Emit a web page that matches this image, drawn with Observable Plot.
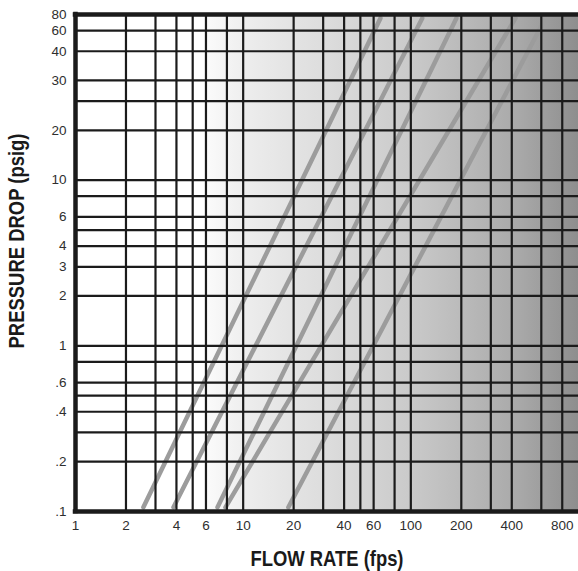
<!DOCTYPE html>
<html>
<head>
<meta charset="utf-8">
<script src="https://cdn.jsdelivr.net/npm/d3@7"></script>
<script src="https://cdn.jsdelivr.net/npm/@observablehq/plot@0.6"></script>
<style>
  html, body { margin: 0; padding: 0; background: #fff; }
  svg { display: block; }
</style>
</head>
<body>
<div id="chart"></div>
<script>
// ---- data ----
const xTicks = [1, 2, 4, 6, 10, 20, 40, 60, 100, 200, 400, 800];
const xTickLabels = ["1", "2", "4", "6", "10", "20", "40", "60", "100", "200", "400", "800"];
const xGrid = [2, 3, 4, 5, 6, 8, 10, 20, 30, 40, 50, 60, 80, 100, 200, 300, 400, 600, 800];

const yTicks = [0.1, 0.2, 0.4, 0.6, 1, 2, 3, 4, 6, 10, 20, 40, 60, 80, 100];
const yTickLabels = [".1", ".2", ".4", ".6", "1", "2", "3", "4", "6", "10", "20", "30", "40", "60", "80"];
const yGrid = [0.2, 0.3, 0.4, 0.5, 0.6, 0.8, 1, 2, 3, 4, 5, 6, 8, 10, 20, 30, 40, 60, 80];

const curveNames = ["A", "B", "C", "D", "E"];
const flowStart = [2.54, 3.84, 7.03, 7.84, 18.6];
const flowEnd = [65.9, 117, 187, 421, 635];
const dropStart = [0.106, 0.106, 0.106, 0.106, 0.106];
const dropEnd = [95, 95, 95, 95, 95];

const xDomain = [1, 1000];
const yDomain = [0.1, 100];
const shadeStartFlow = 6;

const xTitle = "FLOW RATE (fps)";
const yTitle = "PRESSURE DROP (psig)";

// ---- build ----
const rows = [];
curveNames.forEach((c, i) => {
  rows.push({curve: c, flow: flowStart[i], drop: dropStart[i]});
  rows.push({curve: c, flow: flowEnd[i], drop: dropEnd[i]});
});
const xTickRows = xTicks.map((v, i) => ({v, label: xTickLabels[i]}));
const yTickRows = yTicks.map((v, i) => ({v, label: yTickLabels[i]}));

const FONT = "'Liberation Sans', Arial, Helvetica, sans-serif";
const GRID = "#1b1b1b";
const TICK = "#2e2e2e";

const svg = Plot.plot({
  width: 578,
  height: 571,
  marginLeft: 75,
  marginRight: 0,
  marginTop: 14,
  marginBottom: 60,
  style: {fontFamily: FONT, fontSize: "13.5px", color: "#2a2a2a", background: "#fff", overflow: "visible"},
  x: {type: "log", domain: xDomain, axis: null},
  y: {type: "log", domain: yDomain, axis: null},
  marks: [
    Plot.rect([{x1: shadeStartFlow, x2: xDomain[1], y1: yDomain[0], y2: yDomain[1]}],
      {x1: "x1", x2: "x2", y1: "y1", y2: "y2", fill: "url(#bggrad)"}),
    Plot.line(rows, {x: "flow", y: "drop", z: "curve", stroke: "#9c9c9c", strokeWidth: 4.5}),
    Plot.ruleX(xGrid, {stroke: GRID, strokeWidth: 2.2}),
    Plot.ruleY(yGrid, {stroke: GRID, strokeWidth: 2.2}),
    Plot.ruleX([xDomain[0]], {stroke: GRID, strokeWidth: 4.5, strokeLinecap: "square"}),
    Plot.ruleY([yDomain[0], yDomain[1]], {stroke: GRID, strokeWidth: 4.5, strokeLinecap: "square"}),
    // tick labels
    Plot.text(xTickRows, {x: "v", text: "label", frameAnchor: "bottom", dy: 9, lineAnchor: "top",
      fontSize: 13.5, fill: TICK}),
    Plot.text(yTickRows, {y: "v", text: "label", frameAnchor: "left", dx: -9, textAnchor: "end",
      lineAnchor: "middle", fontSize: 13.5, fill: TICK}),
    // axis titles
    Plot.text([xTitle], {frameAnchor: "bottom", dy: 47, fontSize: 22, fontWeight: "bold",
      fill: "#1a1a1a", textAnchor: "middle", lineAnchor: "middle"}),
    Plot.text([yTitle], {frameAnchor: "left", dx: -59, dy: -22, rotate: -90, fontSize: 22,
      fontWeight: "bold", fill: "#1a1a1a", textAnchor: "middle", lineAnchor: "middle"})
  ]
});

// condense the bold titles (narrow face as in the reference)
svg.querySelectorAll("text").forEach(t => {
  if (t.textContent === xTitle) { t.setAttribute("textLength", 153); t.setAttribute("lengthAdjust", "spacingAndGlyphs"); }
  if (t.textContent === yTitle) { t.setAttribute("textLength", 215); t.setAttribute("lengthAdjust", "spacingAndGlyphs"); }
});

// gradient definition for the shaded background
const defs = d3.select(svg).insert("defs", ":first-child");
const grad = defs.append("linearGradient").attr("id", "bggrad")
  .attr("x1", "0").attr("x2", "1").attr("y1", "0").attr("y2", "0");
[[0, "#fbfbfb"], [0.12, "#ececec"], [0.33, "#dcdcdc"], [0.55, "#cacaca"], [0.84, "#a9a9a9"], [1, "#8e8e8e"]]
  .forEach(([o, c]) => grad.append("stop").attr("offset", o).attr("stop-color", c));

document.getElementById("chart").appendChild(svg);
</script>
</body>
</html>
